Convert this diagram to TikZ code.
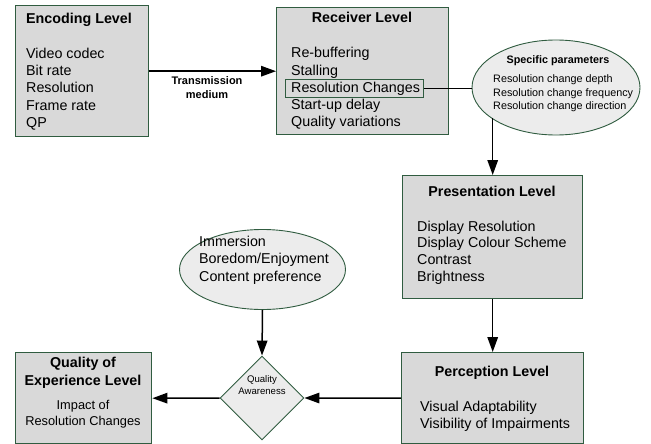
\documentclass[tikz,border=0pt]{standalone}
\usepackage{fontspec}
\setmainfont{Liberation Sans}
\usetikzlibrary{shapes.geometric,arrows.meta}
\definecolor{edgegreen}{RGB}{48,92,64}
\definecolor{boxgray}{RGB}{217,217,217}
\definecolor{ovalgray}{RGB}{236,236,236}
\tikzset{
  levelbox/.style={draw=edgegreen, line width=1.4pt, fill=boxgray, inner sep=0pt, anchor=north west},
  oval/.style={ellipse, draw=edgegreen, line width=0.9pt, fill=ovalgray, inner sep=0pt},
  decision/.style={diamond, draw=edgegreen, line width=0.9pt, fill=ovalgray, inner sep=0pt, aspect=1},
  head/.style={font=\fontsize{14.3}{17}\selectfont\bfseries, inner sep=0pt, anchor=base},
  item/.style={font=\fontsize{14.3}{17}\selectfont, inner sep=0pt, anchor=base west},
  small/.style={font=\fontsize{11}{13}\selectfont, inner sep=0pt},
  link/.style={line width=1.5pt},
  arr/.style={line width=1.5pt, -{Triangle[length=15pt,width=10.5pt]}}
}
\begin{document}
\begin{tikzpicture}[x=1pt,y=-1pt]
\useasboundingbox (0,0) rectangle (651,444);

% Encoding level
\node[levelbox, minimum width=133pt, minimum height=131pt] (enc) at (15,5) {};
\node[head, anchor=base west] (encT) at (26,24) {Encoding Level};
\foreach \t [count=\i from 0] in {Video codec, Bit rate, Resolution, Frame rate, QP}
  \node[item] (enc\i) at (26,58.3+17.3*\i) {\t};

% Receiver level
\node[levelbox, minimum width=172pt, minimum height=127pt] (rec) at (276,7) {};
\node[head] (recT) at (362,23) {Receiver Level};
\foreach \t [count=\i from 0] in {Re-buffering, Stalling, Resolution Changes, Start-up delay, Quality variations}
  \node[item] (rec\i) at (291,58+17.1*\i) {\t};
\node[draw=edgegreen, line width=1pt, inner sep=0pt, minimum width=138pt, minimum height=18pt, anchor=north west] (rc) at (285,79) {};

% Transmission medium label
\node[small, font=\fontsize{11}{14}\selectfont\bfseries, align=center, anchor=base] (tm) at (207,98.7) {Transmission\\medium};

% Specific parameters
\node[oval, minimum width=168pt, minimum height=95pt] (spec) at (556,87.5) {};
\node[small, font=\fontsize{10.8}{13}\selectfont\bfseries, anchor=base] (specT) at (558,64) {Specific parameters};
\foreach \t [count=\i from 0] in {Resolution change depth, Resolution change frequency, Resolution change direction}
  \node[small, font=\fontsize{10.8}{13}\selectfont, anchor=base west] (spec\i) at (493,82.7+13.3*\i) {\t};

% Presentation level
\node[levelbox, minimum width=180pt, minimum height=123pt] (pres) at (402,175) {};
\node[head] (presT) at (492,196) {Presentation Level};
\foreach \t [count=\i from 0] in {Display Resolution, Display Colour Scheme, Contrast, Brightness}
  \node[item] (pres\i) at (417,231+16.8*\i) {\t};

% Perception level
\node[levelbox, minimum width=182pt, minimum height=91pt] (perc) at (401,352) {};
\node[head] (percT) at (492,376) {Perception Level};
\node[item] (perc0) at (420,411) {Visual Adaptability};
\node[item] (perc1) at (420,428) {Visibility of Impairments};

% Context factors
\node[oval, minimum width=166pt, minimum height=80pt] (imm) at (262.5,269.5) {};
\foreach \t [count=\i from 0] in {Immersion, Boredom/Enjoyment, Content preference}
  \node[item] (imm\i) at (199,246.7+17.2*\i) {\t};

% Quality awareness
\node[decision, minimum width=84pt, minimum height=84pt] (dia) at (262,398) {};
\node[font=\fontsize{9.6}{11.4}\selectfont, inner sep=0pt, align=center, anchor=base] (diaT) at (262,394.3) {Quality\\Awareness};

% Quality of experience level
\node[levelbox, minimum width=136pt, minimum height=91pt] (qoe) at (15,352) {};
\node[head] (qoeT1) at (83,367.3) {Quality of};
\node[head] (qoeT2) at (83,385.7) {Experience Level};
\node[font=\fontsize{12.8}{15}\selectfont, inner sep=0pt, anchor=base] (qoe0) at (83,409) {Impact of};
\node[font=\fontsize{12.8}{15}\selectfont, inner sep=0pt, anchor=base] (qoe1) at (83,425) {Resolution Changes};

% Connectors
\draw[arr] (enc.east) -- (rec.west);
\draw[link] (rc.east) -- (spec.west |- rc.east);
\draw[arr] (pres.north |- spec.205.5) -- (pres.north);
\draw[arr] (pres.south) -- (perc.north);
\draw[arr] (perc.west) -- (dia.east);
\draw[arr] (imm.south) -- (dia.north);
\draw[arr] (dia.west) -- (qoe.east);
\end{tikzpicture}
\end{document}
